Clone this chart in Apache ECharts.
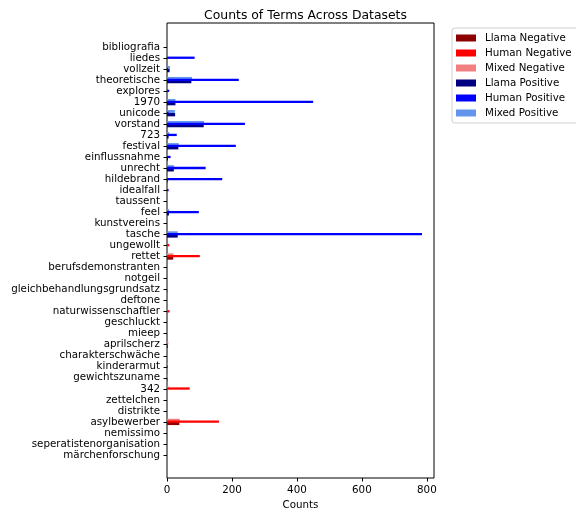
<!DOCTYPE html>
<html>
<head>
<meta charset="utf-8">
<script src="https://cdn.jsdelivr.net/npm/echarts@6/dist/echarts.min.js"></script>
<style>html,body{margin:0;padding:0;background:#fff}#main{width:576px;height:512px}</style>
</head>
<body>
<div id="main"></div>
<script>
// terms listed top to bottom
var terms = ['bibliografia', 'liedes', 'vollzeit', 'theoretische', 'explores', '1970', 'unicode', 'vorstand', '723', 'festival',
    'einflussnahme', 'unrecht', 'hildebrand', 'idealfall', 'taussent', 'feel', 'kunstvereins', 'tasche', 'ungewollt', 'rettet',
    'berufsdemonstranten', 'notgeil', 'gleichbehandlungsgrundsatz', 'deftone', 'naturwissenschaftler', 'geschluckt', 'mieep',
    'aprilscherz', 'charakterschwäche', 'kinderarmut', 'gewichtszuname', '342', 'zettelchen', 'distrikte', 'asylbewerber',
    'nemissimo', 'seperatistenorganisation', 'märchenforschung']

var llamaNeg = [0, 0, 0, 0, 0, 0, 0, 0, 0, 0, 0, 0, 0, 0, 0, 0, 0, 0, 0, 19, 0, 0, 1, 0, 0, 0, 0, 3, 0, 0, 1, 0, 0, 0, 38, 0, 0, 0]
var humanNeg = [0, 0, 0, 0, 0, 0, 0, 0, 0, 0, 0, 0, 0, 0, 0, 0, 0, 0, 7, 101, 0, 0, 0, 0, 8, 0, 0, 2, 0, 3, 0, 70, 0, 0, 160, 0, 0, 0]
var mixedNeg = [0, 0, 0, 0, 0, 0, 0, 0, 0, 0, 0, 0, 0, 0, 0, 0, 0, 0, 0, 20, 0, 0, 0, 0, 1, 0, 0, 4, 0, 2, 2, 4, 0, 0, 39, 0, 0, 0]
var llamaPos = [0, 0, 8, 75, 0, 26, 25, 113, 5, 35, 3, 21, 2, 0, 0, 6, 0, 33, 0, 0, 0, 0, 0, 0, 0, 0, 0, 0, 0, 0, 0, 0, 0, 0, 0, 0, 0, 0]
var humanPos = [0, 85, 3, 221, 7, 450, 5, 240, 30, 212, 11, 119, 170, 5, 0, 98, 0, 785, 0, 0, 0, 0, 0, 0, 0, 0, 0, 0, 0, 0, 0, 0, 0, 0, 0, 0, 0, 0]
var mixedPos = [0, 2, 9, 77, 0, 26, 24, 114, 7, 36, 3, 21, 2, 0, 0, 7, 0, 33, 0, 0, 0, 0, 0, 0, 0, 0, 0, 0, 0, 0, 0, 0, 0, 0, 0, 0, 0, 0]

var xTicks = [0, 200, 400, 600, 800]

var myChart = echarts.init(document.getElementById('main'))
var font = 'DejaVu Sans'
var fs = 10.3

function bar(name, data, stack, color, width, z) {
    return {
        name: name, type: 'bar', data: data, stack: stack,
        xAxisIndex: 1, yAxisIndex: 1,
        barWidth: width, barGap: '-43%', z: z,
        itemStyle: { color: color },
        emphasis: { disabled: true }
    }
}

var option = {
    animation: false,
    textStyle: { fontFamily: font },
    title: {
        text: 'Counts of Terms Across Datasets',
        left: 300.5, top: 5, textAlign: 'center',
        textStyle: { fontFamily: font, fontSize: 12.4, fontWeight: 'normal', color: '#000' }
    },
    legend: {
        orient: 'vertical', left: 452, top: 28,
        padding: [4, 8, 4, 4], itemGap: 3,
        itemWidth: 20, itemHeight: 7, icon: 'rect',
        borderColor: '#d0d0d0', borderWidth: 1, borderRadius: 3,
        textStyle: { fontFamily: font, fontSize: fs, color: '#000', lineHeight: 12, padding: [0, 0, 0, 4] },
        data: ['Llama Negative', 'Human Negative', 'Mixed Negative', 'Llama Positive', 'Human Positive', 'Mixed Positive']
    },
    grid: [
        // frame
        { left: 167, right: 142, top: 23, bottom: 34, show: true, borderColor: '#000', borderWidth: 1, backgroundColor: 'transparent', outerBoundsMode: 'none' },
        // bars
        { left: 167, right: 142, top: 41.5, bottom: 51.5, outerBoundsMode: 'none' }
    ],
    xAxis: [
        { gridIndex: 0, type: 'value', show: false, min: 0, max: 822 },
        {
            gridIndex: 1, type: 'value', min: 0, max: 822, interval: 200, offset: 17.5,
            name: 'Counts', nameLocation: 'middle', nameGap: 21,
            nameTextStyle: { fontFamily: font, fontSize: fs, color: '#000' },
            axisLine: { show: false },
            axisTick: { show: true, length: 3.5, lineStyle: { color: '#000' } },
            axisLabel: {
                fontFamily: font, fontSize: fs, color: '#000', margin: 7.5, showMaxLabel: false,
                formatter: function (v) { return xTicks.indexOf(v) >= 0 ? String(v) : '' }
            },
            splitLine: { show: false }
        }
    ],
    yAxis: [
        { gridIndex: 0, type: 'value', show: false },
        {
            gridIndex: 1, type: 'category', data: terms, inverse: true,
            axisLine: { show: false },
            axisTick: { show: true, alignWithLabel: true, length: 3.5, lineStyle: { color: '#000' } },
            axisLabel: { fontFamily: font, fontSize: fs, color: '#000', margin: 7, interval: 0 }
        }
    ],
    series: [
        bar('Mixed Negative', mixedNeg, 'mixed', '#F08080', 3, 2),
        bar('Mixed Positive', mixedPos, 'mixed', '#6495ED', 3, 2),
        bar('Human Negative', humanNeg, 'human', '#FF0000', 2.3, 4),
        bar('Human Positive', humanPos, 'human', '#0000FF', 2.3, 4),
        bar('Llama Negative', llamaNeg, 'llama', '#8B0000', 3.3, 3),
        bar('Llama Positive', llamaPos, 'llama', '#000080', 3.3, 3)
    ]
}

myChart.setOption(option)
</script>
</body>
</html>
